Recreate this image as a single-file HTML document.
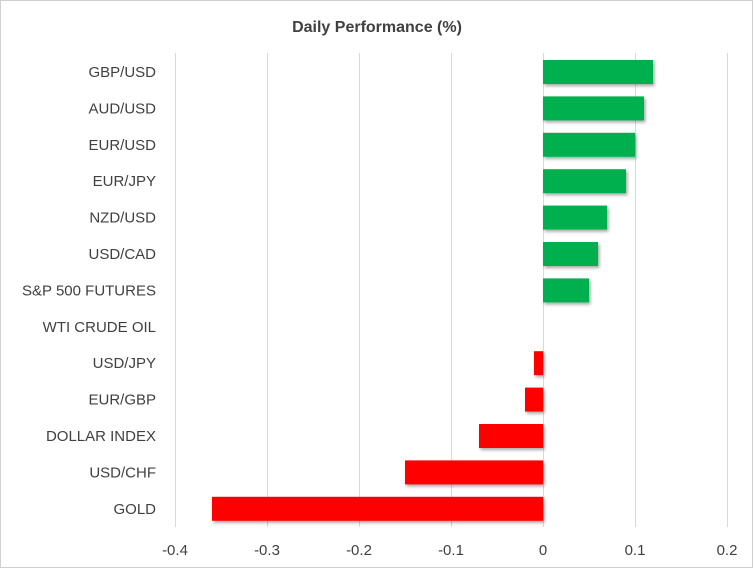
<!DOCTYPE html>
<html><head><style>
body{margin:0;background:#fff;}
</style></head><body>
<svg width="754" height="569" xmlns="http://www.w3.org/2000/svg" style="display:block;font-family:'Liberation Sans',sans-serif">
<defs><filter id="sh" x="-5%" y="-20%" width="115%" height="160%"><feDropShadow dx="1.5" dy="2" stdDeviation="1.5" flood-color="#000" flood-opacity="0.35"/></filter></defs>
<rect x="0.5" y="0.5" width="752" height="567" fill="#fff" stroke="#d0d0d0"/>
<text x="377" y="32" text-anchor="middle" font-size="16" font-weight="bold" fill="#404040">Daily Performance (%)</text>
<g stroke="#d9d9d9" stroke-width="1">
<line x1="175.5" y1="53" x2="175.5" y2="527"/>
<line x1="267.5" y1="53" x2="267.5" y2="527"/>
<line x1="359.5" y1="53" x2="359.5" y2="527"/>
<line x1="451.5" y1="53" x2="451.5" y2="527"/>
<line x1="543.5" y1="53" x2="543.5" y2="527"/>
<line x1="635.5" y1="53" x2="635.5" y2="527"/>
<line x1="727.5" y1="53" x2="727.5" y2="527"/>
</g>
<g fill="#00b050" filter="url(#sh)">
<rect x="543" y="60" width="110" height="24"/>
<rect x="543" y="96.4" width="101" height="24"/>
<rect x="543" y="132.8" width="92" height="24"/>
<rect x="543" y="169.2" width="83" height="24"/>
<rect x="543" y="205.6" width="64" height="24"/>
<rect x="543" y="242" width="55" height="24"/>
<rect x="543" y="278.4" width="46" height="24"/>
</g>
<g fill="#ff0000" filter="url(#sh)">
<rect x="534" y="351.2" width="9" height="24"/>
<rect x="525" y="387.6" width="18" height="24"/>
<rect x="479" y="424" width="64" height="24"/>
<rect x="405" y="460.4" width="138" height="24"/>
<rect x="212" y="496.8" width="331" height="24"/>
</g>
<g font-size="15" fill="#404040" text-anchor="end">
<text x="156" y="77">GBP/USD</text>
<text x="156" y="113.4">AUD/USD</text>
<text x="156" y="149.8">EUR/USD</text>
<text x="156" y="186.2">EUR/JPY</text>
<text x="156" y="222.6">NZD/USD</text>
<text x="156" y="259">USD/CAD</text>
<text x="156" y="295.4">S&amp;P 500 FUTURES</text>
<text x="156" y="331.8">WTI CRUDE OIL</text>
<text x="156" y="368.2">USD/JPY</text>
<text x="156" y="404.6">EUR/GBP</text>
<text x="156" y="441">DOLLAR INDEX</text>
<text x="156" y="477.4">USD/CHF</text>
<text x="156" y="513.8">GOLD</text>
</g>
<g font-size="15" fill="#404040" text-anchor="middle">
<text x="175" y="555">-0.4</text>
<text x="267" y="555">-0.3</text>
<text x="359" y="555">-0.2</text>
<text x="451" y="555">-0.1</text>
<text x="543" y="555">0</text>
<text x="635" y="555">0.1</text>
<text x="727" y="555">0.2</text>
</g>
</svg>
</body></html>
